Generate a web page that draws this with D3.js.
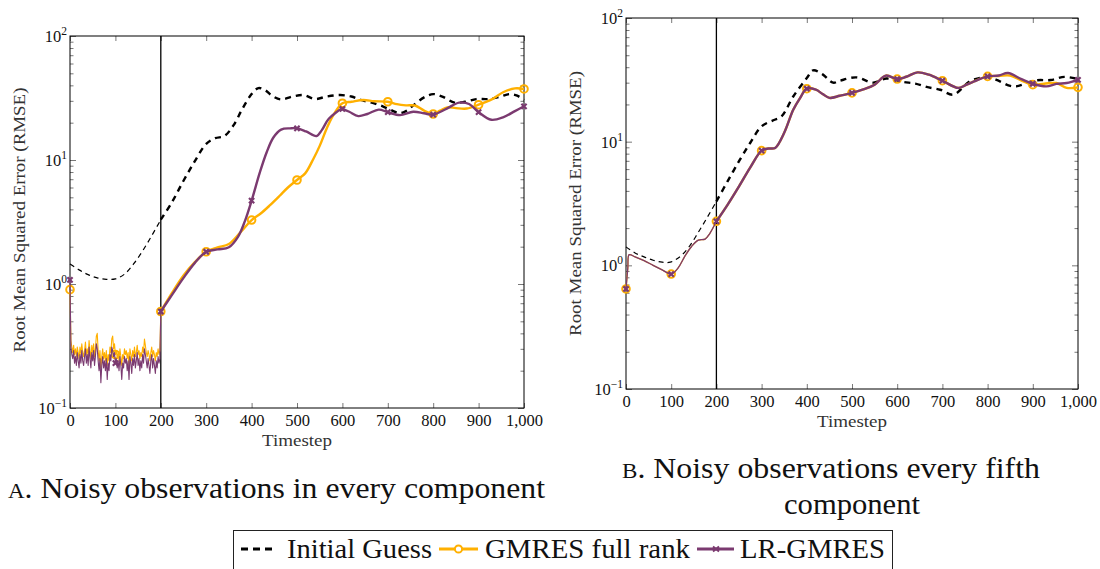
<!DOCTYPE html>
<html>
<head>
<meta charset="utf-8">
<script src="https://cdn.jsdelivr.net/npm/d3@7"></script>
<style>
  body { margin: 0; background: #fff; }
  svg { display: block; }
</style>
</head>
<body>
<svg id="fig" width="1100" height="569"></svg>
<script>
// ---- shared axis values ----
const xTicks = [0, 100, 200, 300, 400, 500, 600, 700, 800, 900, 1000];
const yDomain = [0.1, 100];
const markerSteps = [0, 100, 200, 300, 400, 500, 600, 700, 800, 900, 1000];
const windowEnd = 200;   // end of the observation window (vertical rule)

// pick the first serif face the system actually has
function pickSerif() {
  const candidates = ["Liberation Serif", "Tinos", "Times New Roman", "DejaVu Serif", "Noto Serif",
    "FreeSerif", "Nimbus Roman", "Nimbus Roman No9 L", "Georgia", "Bitstream Vera Serif"];
  const ctx = document.createElement("canvas").getContext("2d");
  const probe = "mmmmmmmmmlliWQ@#0123456789 Noisy observations";
  const width = f => { ctx.font = `40px ${f}`; return ctx.measureText(probe).width; };
  const mono = width("monospace"), sans = width("sans-serif");
  for (const c of candidates) {
    const a = width(`"${c}", monospace`), b = width(`"${c}", sans-serif`);
    if (Math.abs(a - mono) > 0.5 && Math.abs(b - sans) > 0.5) return `"${c}", serif`;
  }
  return "serif";
}
const SERIF = pickSerif();

// ---- panel A: noisy observations in every component ----
const guessA = [[0,1.45],[20,1.30],[40,1.19],[60,1.12],[80,1.09],[100,1.10],[120,1.20],[140,1.45],
  [160,1.85],[180,2.45],[200,3.3],[225,4.6],[250,6.8],[275,9.8],[300,13.5],[320,15.0],[340,15.6],
  [360,19],[380,26],[400,34],[415,38],[430,36.5],[445,33],[465,30.8],[490,32.5],[515,33.4],[540,31],
  [565,32.5],[595,33.4],[620,32.5],[640,30.5],[665,29],[690,27],[710,25],[725,23.8],[740,24.8],
  [757,27.7],[780,32],[800,34],[820,32.5],[847,29],[870,29.5],[895,31],[920,31],[946,32.3],
  [968,34],[985,33],[1000,30.5]];

const gmresA0 = 0.90;   // first analysis value at t = 0
const lrA0 = 1.08;
// analysis error inside the window, every second timestep from t = 2 to t = 198
const gmresANoise = [
  0.35,0.31,0.28,0.32,0.27,0.30,0.26,0.31,0.28,0.25,
  0.31,0.27,0.33,0.28,0.26,0.29,0.34,0.27,0.30,0.26,
  0.35,0.29,0.25,0.32,0.28,0.33,0.26,0.30,0.38,0.40,
  0.29,0.24,0.29,0.21,0.26,0.30,0.25,0.28,0.24,0.29,
  0.22,0.27,0.24,0.31,0.28,0.36,0.38,0.30,0.33,0.27,
  0.29,0.25,0.28,0.24,0.30,0.26,0.22,0.27,0.25,0.30,
  0.27,0.29,0.25,0.28,0.22,0.30,0.27,0.24,0.29,0.26,
  0.31,0.26,0.28,0.32,0.27,0.29,0.25,0.28,0.26,0.31,
  0.28,0.36,0.32,0.28,0.26,0.29,0.27,0.24,0.28,0.31,
  0.26,0.29,0.27,0.24,0.28,0.26,0.30,0.27,0.29];
const lrANoise = [
  0.31,0.27,0.25,0.29,0.23,0.26,0.22,0.28,0.24,0.21,
  0.27,0.23,0.29,0.24,0.22,0.26,0.30,0.23,0.27,0.22,
  0.31,0.25,0.21,0.28,0.24,0.29,0.22,0.26,0.33,0.30,
  0.24,0.20,0.25,0.16,0.22,0.26,0.21,0.24,0.20,0.25,
  0.17,0.23,0.20,0.27,0.24,0.31,0.29,0.26,0.28,0.23,
  0.25,0.21,0.24,0.20,0.26,0.22,0.17,0.23,0.21,0.26,
  0.23,0.25,0.20,0.24,0.17,0.26,0.23,0.19,0.25,0.22,
  0.27,0.21,0.24,0.28,0.22,0.25,0.20,0.24,0.21,0.27,
  0.23,0.30,0.27,0.24,0.21,0.25,0.22,0.19,0.24,0.27,
  0.21,0.25,0.22,0.19,0.24,0.21,0.26,0.23,0.25];

const gmresA = [[200,0.60],[225,0.85],[250,1.17],[275,1.5],[300,1.82],[325,1.97],[350,2.1],[375,2.6],
  [400,3.28],[420,3.7],[440,4.3],[462,5.15],[480,6.0],[500,6.9],[518,7.8],[536,10.2],[550,13],
  [565,17.8],[580,23],[600,28.7],[620,29.5],[646,30.5],[670,29.8],[700,29.5],[720,28.2],[740,27.6],
  [760,27.5],[780,25],[800,23.5],[815,25],[831,26.6],[850,26.2],[874,26],[900,27.9],[930,31],
  [954,35.2],[980,37.8],[1000,37.4]];
const lrA = [[200,0.60],[225,0.82],[250,1.12],[275,1.48],[300,1.82],[325,1.90],[350,1.98],[370,2.4],
  [385,3.2],[400,4.7],[418,7.9],[433,11.5],[448,15.2],[465,17.6],[485,18.0],[500,18.0],[520,17.0],
  [543,15.6],[555,17.5],[570,21.5],[598,25.8],[600,25.8],[615,24.5],[635,22.6],[655,23.5],[680,25.5],
  [700,24.3],[727,23.0],[756,24.5],[780,23.8],[800,23.2],[830,26],[857,29],[879,28.3],[900,24.3],
  [928,21.1],[955,22.2],[980,24.8],[1000,27.1]];

// ---- panel B: noisy observations every fifth component ----
const guessB = [[0,1.41],[20,1.26],[40,1.17],[60,1.10],[80,1.06],[98,1.06],[120,1.18],[140,1.42],
  [160,1.85],[180,2.45],[200,3.29],[225,4.8],[252,7.15],[275,9.8],[300,13.3],[326,14.9],[344,16],
  [370,23.2],[400,32.7],[414,37.7],[435,35],[458,30],[473,31.1],[510,33.1],[547,30],[576,32.4],
  [613,30.4],[640,29.5],[665,27.7],[695,26.3],[724,24],[760,30.7],[782,32.7],[800,33.3],[825,31],
  [848,28.4],[863,28],[907,31.3],[940,31.5],[970,33.4],[1000,32.1]];
const gmresB = [[0,0.644],[4,0.95],[7,1.22],[20,1.17],[40,1.09],[60,1.0],[80,0.92],[100,0.85],
  [115,0.95],[130,1.18],[145,1.42],[160,1.6],[175,1.63],[185,1.8],[200,2.27],[225,3.1],[250,4.35],
  [275,6.2],[300,8.46],[315,8.8],[330,8.9],[350,11.8],[370,18.1],[385,22.5],[400,26.8],[420,26.3],
  [435,24.3],[450,22.6],[473,23.5],[500,24.8],[525,26.5],[550,28.9],[575,34.2],[600,32.1],[620,33.5],
  [645,36.3],[670,34.8],[700,31.1],[735,27.2],[750,28.5],[770,30.7],[800,33.7],[825,34.0],[850,34.2],
  [875,31.2],[900,28.9],[925,29.4],[952,29.8],[975,27.2],[1000,27.5]];
const lrB = [[0,0.644],[4,0.95],[7,1.22],[20,1.17],[40,1.09],[60,1.0],[80,0.92],[100,0.85],
  [115,0.95],[130,1.18],[145,1.42],[160,1.6],[175,1.63],[185,1.8],[200,2.27],[225,3.1],[250,4.35],
  [275,6.2],[300,8.46],[315,8.8],[330,8.9],[350,11.8],[370,18.1],[385,22.5],[400,26.8],[420,26.3],
  [435,24.3],[450,22.6],[473,23.5],[500,24.8],[525,26.5],[550,28.9],[575,34.2],[600,32.1],[620,33.5],
  [645,36.3],[670,34.8],[700,31.1],[735,27.2],[750,28.5],[770,30.7],[800,33.7],[825,34.3],[845,35.9],
  [875,32],[900,29.4],[930,28.0],[952,29.3],[975,29.8],[1000,31.6]];

const seriesNames = ["Initial Guess", "GMRES full rank", "LR-GMRES"];
const captions = {
  a: ["A", ". Noisy observations in every component"],
  b: ["B", ". Noisy observations every fifth", "component"]
};

// ---- styling ----
const YELLOW = "#FFB000", PURPLE = "#7B3A70", BLACK = "#000";
const svg = d3.select("#fig").attr("font-family", SERIF).style("font-family", SERIF);

// build panel-A window series from the start value and the every-2-step samples
function windowSeries(start, noise, endValue) {
  const steps = d3.range(2, windowEnd, 2);
  return [[0, start]].concat(steps.map((t, i) => [t, noise[i]])).concat([[windowEnd, endValue]]);
}

function drawPanel(p) {
  const x = d3.scaleLinear().domain([0, 1000]).range([p.x0, p.x1]);
  const y = d3.scaleLog().domain(yDomain).range([p.y1, p.y0]);
  const g = svg.append("g");

  const allY = y.ticks();
  const isMajor = v => Math.abs(Math.log10(v) - Math.round(Math.log10(v))) < 1e-9;
  const minorY = allY.filter(v => !isMajor(v));
  const majorY = allY.filter(isMajor);

  const styleAxis = sel => {
    sel.attr("font-family", SERIF);
    sel.select(".domain").remove();
    sel.selectAll(".tick line").attr("stroke", "#555").attr("stroke-width", 0.8);
  };
  // inward ticks on all four sides
  g.append("g").attr("transform", `translate(${p.x0},0)`)
    .call(d3.axisLeft(y).tickValues(minorY).tickSize(-3.5).tickFormat("")).call(styleAxis);
  g.append("g").attr("transform", `translate(${p.x0},0)`)
    .call(d3.axisLeft(y).tickValues(majorY).tickSize(-6).tickFormat("")).call(styleAxis);
  g.append("g").attr("transform", `translate(${p.x1},0)`)
    .call(d3.axisRight(y).tickValues(minorY).tickSize(-3.5).tickFormat("")).call(styleAxis);
  g.append("g").attr("transform", `translate(${p.x1},0)`)
    .call(d3.axisRight(y).tickValues(majorY).tickSize(-6).tickFormat("")).call(styleAxis);
  g.append("g").attr("transform", `translate(0,${p.y0})`)
    .call(d3.axisTop(x).tickValues(xTicks).tickSize(-5).tickFormat("")).call(styleAxis);
  const xb = g.append("g").attr("transform", `translate(0,${p.y1})`)
    .call(d3.axisBottom(x).tickValues(xTicks).tickSize(-5).tickPadding(6).tickFormat(d3.format(",")))
    .call(styleAxis);
  xb.attr("font-size", 16.5);
  xb.selectAll(".tick text").attr("fill", "#111").attr("font-family", SERIF);

  // y tick labels 10^n
  majorY.forEach(v => {
    const e = Math.round(Math.log10(v));
    const t = g.append("text").attr("x", p.x0 - 3).attr("y", y(v) + 6).attr("font-family", SERIF)
      .attr("text-anchor", "end").attr("font-size", 16.5).attr("fill", "#111");
    t.append("tspan").text("10");
    t.append("tspan").attr("font-size", 11.5).attr("dy", -7).text(e < 0 ? "\u2212" + (-e) : String(e));
  });

  // frame
  g.append("rect").attr("x", p.x0).attr("y", p.y0)
    .attr("width", p.x1 - p.x0).attr("height", p.y1 - p.y0)
    .attr("fill", "none").attr("stroke", BLACK).attr("stroke-width", 1);

  // axis titles
  g.append("text").attr("transform", `translate(${p.ylabX},${(p.y0 + p.y1) / 2 + p.ylabShift}) rotate(-90)`)
    .attr("text-anchor", "middle").attr("font-size", 17).attr("fill", "#333").attr("font-family", SERIF)
    .attr("textLength", 265).attr("lengthAdjust", "spacingAndGlyphs")
    .text("Root Mean Squared Error (RMSE)");
  g.append("text").attr("x", (p.x0 + p.x1) / 2).attr("y", p.y1 + 38)
    .attr("text-anchor", "middle").attr("font-size", 17).attr("fill", "#333").attr("font-family", SERIF)
    .attr("textLength", 70).attr("lengthAdjust", "spacingAndGlyphs")
    .text("Timestep");

  // end of observation window
  g.append("line").attr("x1", x(windowEnd)).attr("x2", x(windowEnd))
    .attr("y1", p.y0).attr("y2", p.y1).attr("stroke", BLACK).attr("stroke-width", 1.3);

  const smooth = d3.line().x(d => x(d[0])).y(d => y(d[1])).curve(d3.curveCatmullRom.alpha(0.5));
  const straight = d3.line().x(d => x(d[0])).y(d => y(d[1]));
  const plot = g.append("g");

  const drawLine = (data, gen, color, width, dash) => {
    plot.append("path").attr("d", gen(data)).attr("fill", "none")
      .attr("stroke", color).attr("stroke-width", width)
      .attr("stroke-linejoin", "round")
      .attr("stroke-dasharray", dash || null);
  };
  const inWindow = s => s.filter(d => d[0] <= windowEnd);
  const afterWindow = s => s.filter(d => d[0] >= windowEnd);

  const circleMarks = pts => pts.forEach(d => {
    plot.append("circle").attr("cx", x(d[0])).attr("cy", y(d[1])).attr("r", 3.8)
      .attr("fill", "none").attr("stroke", YELLOW).attr("stroke-width", 2);
  });
  const crossMarks = pts => pts.forEach(d => {
    const cx = x(d[0]), cy = y(d[1]), s = 2.6;
    plot.append("path")
      .attr("d", `M${cx - s},${cy - s}L${cx + s},${cy + s}M${cx - s},${cy + s}L${cx + s},${cy - s}`)
      .attr("stroke", PURPLE).attr("stroke-width", 2.2).attr("fill", "none");
  });
  const marks = (all) => markerSteps.map(t => all.find(d => d[0] === t)).filter(Boolean);

  // Initial guess: thin inside the window, heavier afterwards
  drawLine(inWindow(p.guess), smooth, BLACK, 1.2, "5,4");
  drawLine(afterWindow(p.guess), smooth, BLACK, 2.4, "6,5");

  // GMRES full rank
  drawLine(p.gmresWin, p.winCurve === "linear" ? straight : smooth, YELLOW, p.winWidth);
  drawLine(p.gmres, smooth, YELLOW, 2.4);
  circleMarks(marks(p.gmresWin.concat(p.gmres)));

  // LR-GMRES
  drawLine(p.lrWin, p.winCurve === "linear" ? straight : smooth, PURPLE, p.winWidth);
  drawLine(p.lr, smooth, PURPLE, 2.4);
  crossMarks(marks(p.lrWin.concat(p.lr)));
}

drawPanel({
  x0: 70, x1: 524, y0: 36, y1: 408, ylabX: 25, ylabShift: -2,
  guess: guessA,
  gmresWin: windowSeries(gmresA0, gmresANoise, gmresA[0][1]),
  lrWin: windowSeries(lrA0, lrANoise, lrA[0][1]),
  gmres: gmresA, lr: lrA, winCurve: "linear", winWidth: 1.1
});
drawPanel({
  x0: 626, x1: 1078, y0: 18, y1: 389, ylabX: 581, ylabShift: 0,
  guess: guessB,
  gmresWin: gmresB.filter(d => d[0] <= windowEnd),
  lrWin: lrB.filter(d => d[0] <= windowEnd),
  gmres: gmresB.filter(d => d[0] >= windowEnd),
  lr: lrB.filter(d => d[0] >= windowEnd),
  winCurve: "smooth", winWidth: 1.3
});

// ---- sub-captions ----
const capA = svg.append("text").attr("x", 8).attr("y", 498).attr("font-size", 29).attr("fill", "#111")
  .attr("font-family", SERIF).attr("textLength", 537).attr("lengthAdjust", "spacingAndGlyphs");
capA.append("tspan").attr("font-size", 21).text(captions.a[0]);
capA.append("tspan").text(captions.a[1]);

const capB = svg.append("text").attr("x", 622).attr("y", 478).attr("font-size", 29).attr("fill", "#111")
  .attr("font-family", SERIF).attr("textLength", 418).attr("lengthAdjust", "spacingAndGlyphs");
capB.append("tspan").attr("font-size", 21).text(captions.b[0]);
capB.append("tspan").text(captions.b[1]);
svg.append("text").attr("x", 852).attr("y", 514).attr("font-size", 29).attr("fill", "#111")
  .attr("font-family", SERIF).attr("text-anchor", "middle")
  .attr("textLength", 136).attr("lengthAdjust", "spacingAndGlyphs")
  .text(captions.b[2]);

// ---- legend ----
const leg = svg.append("g");
leg.append("rect").attr("x", 233.5).attr("y", 530.5).attr("width", 659).attr("height", 50)
  .attr("fill", "#fff").attr("stroke", "#222").attr("stroke-width", 1);
const ly = 549;
leg.append("line").attr("x1", 241).attr("x2", 276).attr("y1", ly).attr("y2", ly)
  .attr("stroke", BLACK).attr("stroke-width", 3).attr("stroke-dasharray", "7,5");
leg.append("line").attr("x1", 439).attr("x2", 478).attr("y1", ly).attr("y2", ly)
  .attr("stroke", YELLOW).attr("stroke-width", 3);
leg.append("circle").attr("cx", 458.5).attr("cy", ly).attr("r", 3.6)
  .attr("fill", "#fff").attr("stroke", YELLOW).attr("stroke-width", 2);
leg.append("line").attr("x1", 697).attr("x2", 734).attr("y1", ly).attr("y2", ly)
  .attr("stroke", PURPLE).attr("stroke-width", 3);
leg.append("path").attr("d", `M713,${ly - 2.5}L719,${ly + 2.5}M713,${ly + 2.5}L719,${ly - 2.5}`)
  .attr("stroke", PURPLE).attr("stroke-width", 2);
const legText = [[287, 145], [485, 205], [740, 145]];
seriesNames.forEach((name, i) => {
  leg.append("text").attr("x", legText[i][0]).attr("y", 558).attr("font-size", 27).attr("fill", "#111")
    .attr("font-family", SERIF)
    .attr("textLength", legText[i][1]).attr("lengthAdjust", "spacingAndGlyphs").text(name);
});
</script>
</body>
</html>
